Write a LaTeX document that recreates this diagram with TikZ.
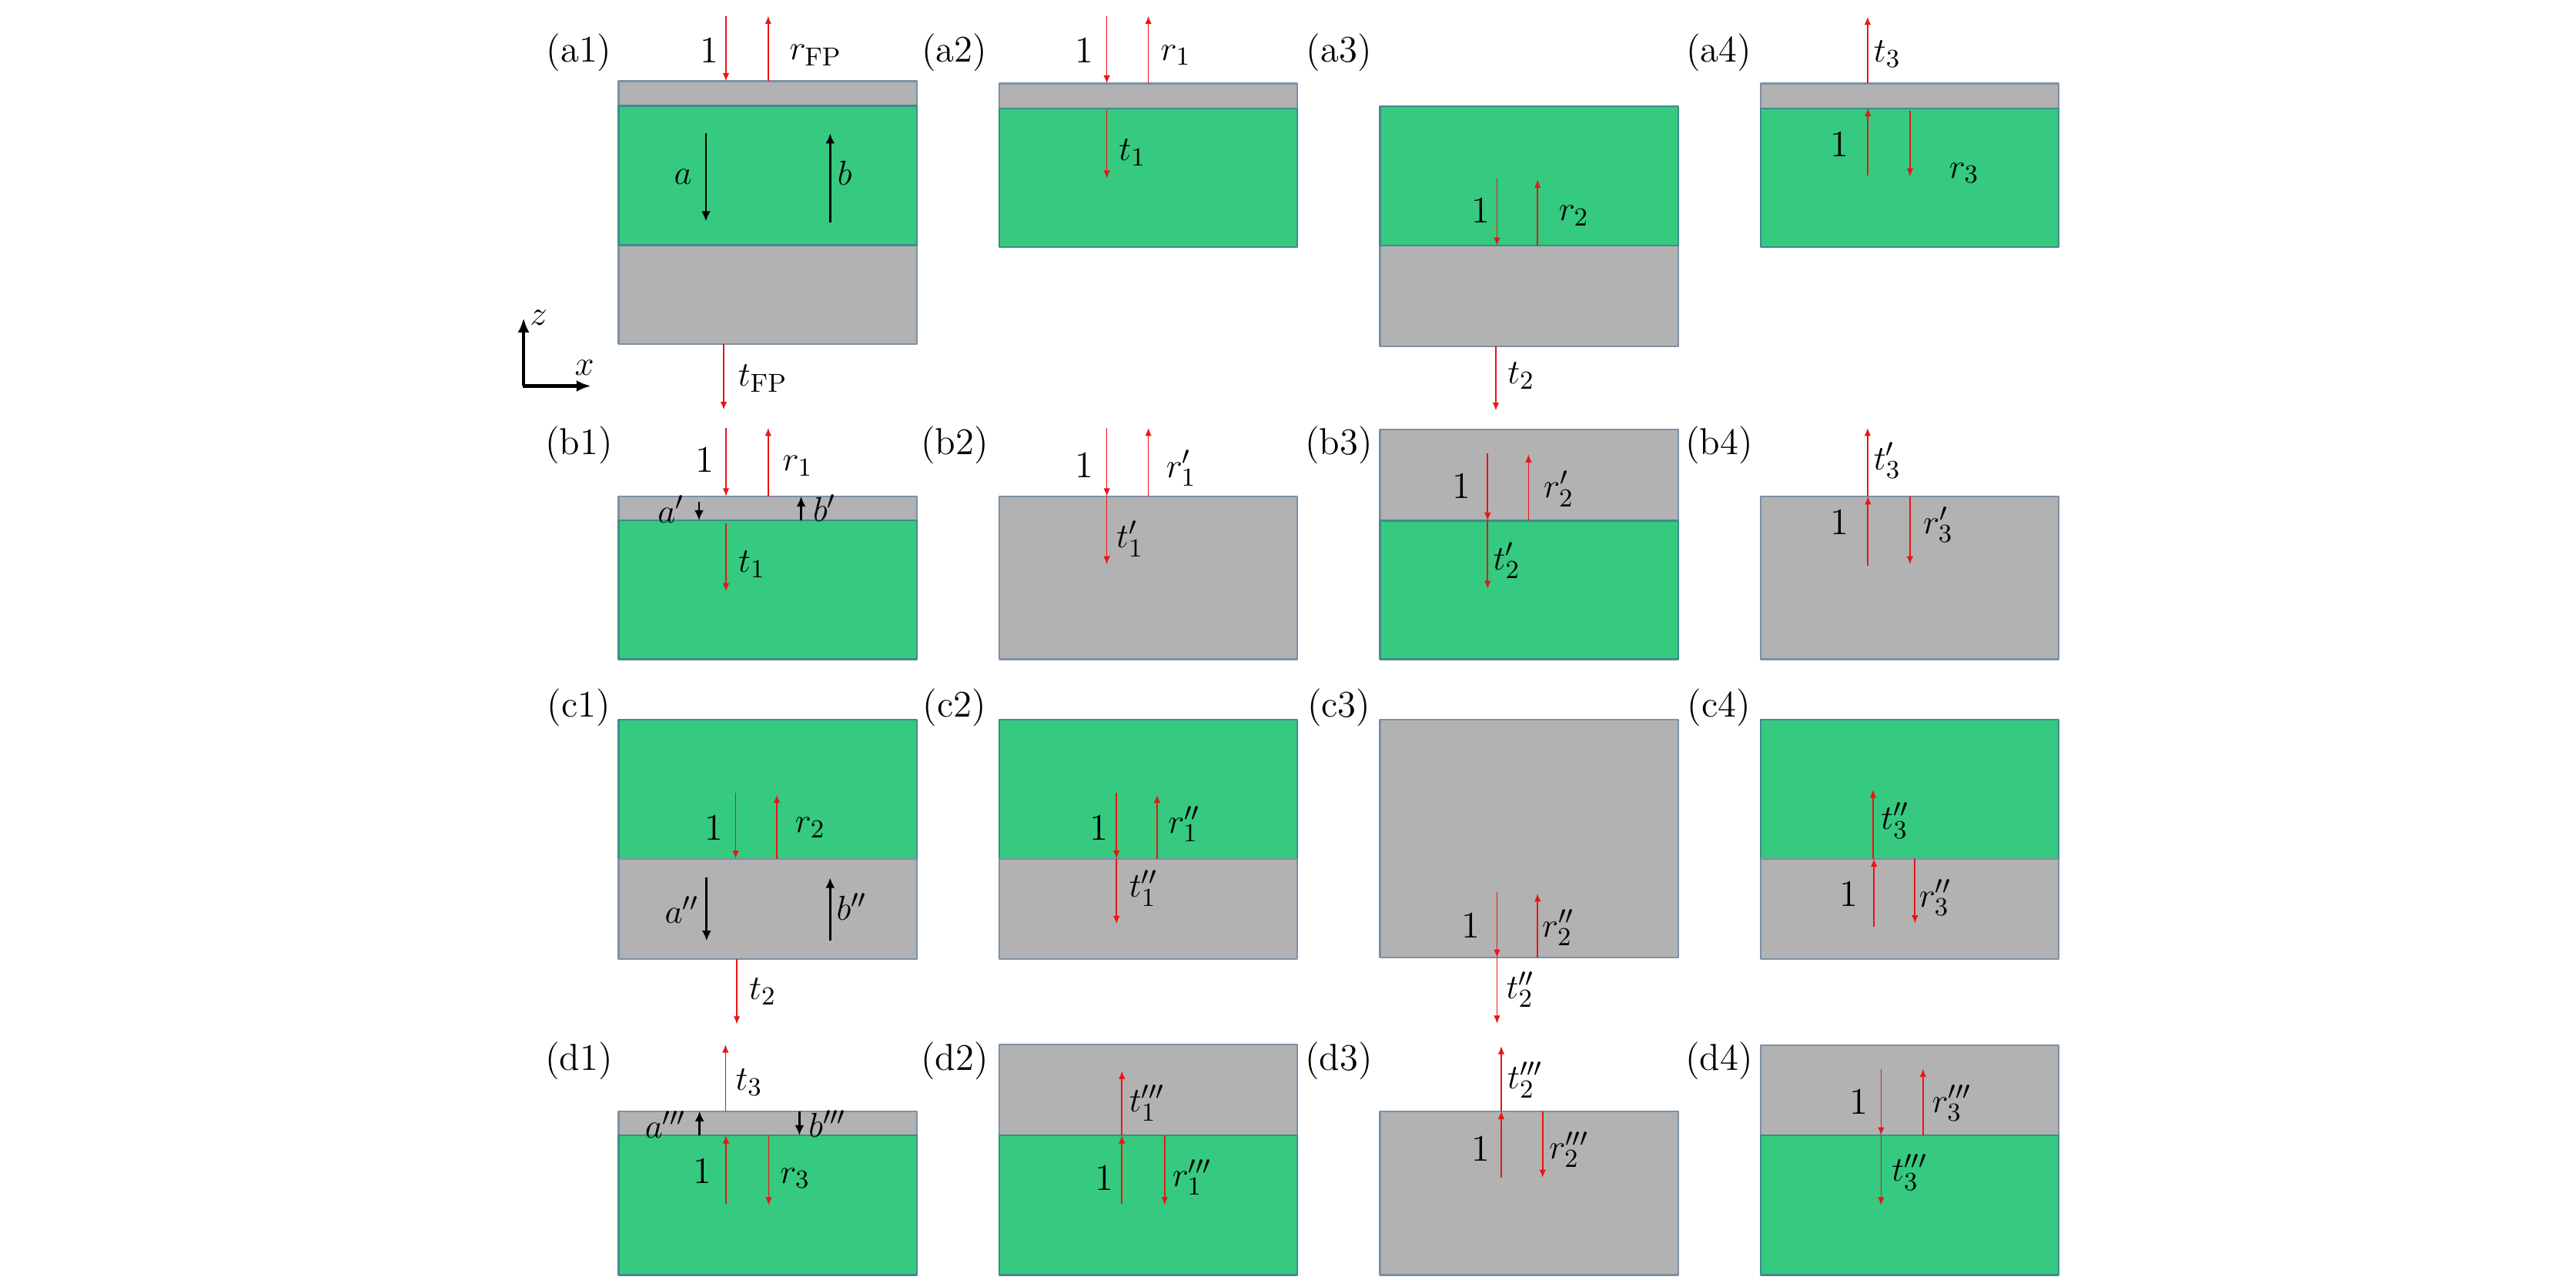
\documentclass[tikz,border=0pt]{standalone}
\usetikzlibrary{arrows.meta}
\definecolor{slabgreen}{RGB}{53,202,127}
\definecolor{slabgray}{RGB}{178,178,178}
\definecolor{grayedge}{RGB}{125,145,165}
\definecolor{greenedge}{RGB}{62,140,140}
\definecolor{rayred}{RGB}{235,20,20}

\begin{document}
\begin{tikzpicture}[join=round,x=0.02cm,y=-0.02cm]
    \tikzstyle{grayfill} = [fill=slabgray,draw=grayedge,line width=.6pt]
    \tikzstyle{greenfill} = [fill=slabgreen,draw=greenedge,line width=.6pt]
    \tikzstyle{ray} = [rayred,line width=.45pt,-{Latex[length=2.8pt,width=2.3pt]}]
    \tikzstyle{field} = [black,line width=.75pt,-{Latex[length=3.5pt,width=3.2pt]}]
    \tikzstyle{axis} = [black,line width=1.1pt,-{Latex[length=5pt,width=4pt]}]
    \tikzstyle{lbl} = [font=\fontsize{13}{15}\selectfont,inner sep=0pt]
    \useasboundingbox (0,0) rectangle (1568,779);
    % row (a)
    \filldraw[grayfill](376.5,49.4) rectangle (558,64.4);
    \filldraw[grayfill](376.5,149.2) rectangle (558,209.3);
    \filldraw[greenfill](376.5,64.4) rectangle (558,149.2);
    \filldraw[grayfill](608.3,50.8) rectangle (789.7,65.9);
    \filldraw[greenfill](608.3,65.9) rectangle (789.7,150.4);
    \filldraw[grayfill](840,149.5) rectangle (1021.4,210.9);
    \filldraw[greenfill](840,64.8) rectangle (1021.4,149.5);
    \filldraw[grayfill](1071.6,50.8) rectangle (1253,65.9);
    \filldraw[greenfill](1071.6,65.9) rectangle (1253,150.4);
    \draw[ray](441.9,9.7)--(441.9,49.4);
    \draw[ray](467.6,49.4)--(467.6,9.7);
    \draw[ray](440.5,209.3)--(440.5,249.5);
    \draw[field](429.7,81.2)--(429.7,134.7);
    \draw[field](505.3,135.6)--(505.3,81.2);
    \draw[axis](318.7,235)--(318.7,193.6);
    \draw[axis](318.2,235)--(359.7,235);
    \draw[ray](673.7,9.7)--(673.7,50.8);
    \draw[ray](699,50.8)--(699,9.7);
    \draw[ray](673.7,67.2)--(673.7,108.6);
    \draw[ray](911.2,108.9)--(911.2,149.5);
    \draw[ray](935.9,149.5)--(935.9,109.4);
    \draw[ray](910.5,210.9)--(910.5,250);
    \draw[ray](1136.8,50.8)--(1136.8,10.2);
    \draw[ray](1137,106.7)--(1137,65.9);
    \draw[ray](1162.6,67.5)--(1162.6,107.5);
    \node[lbl] (pa1) at (352.4,32) {(a1)};
    \node[lbl] (pa2) at (581,32) {(a2)};
    \node[lbl] (pa3) at (815,32) {(a3)};
    \node[lbl] (pa4) at (1046.3,32) {(a4)};
    \node[lbl] (ina1) at (432,30.5) {1};
    \node[lbl] (rfp) at (496.5,33.6) {$r_{\mathrm{FP}}$};
    \node[lbl] (fa) at (415.7,107.8) {$a$};
    \node[lbl] (fb) at (514.2,105.5) {$b$};
    \node[lbl] (axz) at (327.8,193.4) {$z$};
    \node[lbl] (axx) at (355.7,223.7) {$x$};
    \node[lbl] (tfp) at (464.3,230.4) {$t_{\mathrm{FP}}$};
    \node[lbl] (ina2) at (659.8,30.5) {1};
    \node[lbl] (ra2) at (715.7,33.6) {$r_1$};
    \node[lbl] (ta2) at (689.3,93) {$t_1$};
    \node[lbl] (ina3) at (901.4,128.1) {1};
    \node[lbl] (ra3) at (958,131.2) {$r_2$};
    \node[lbl] (ta3) at (925.9,228.8) {$t_2$};
    \node[lbl] (ta4) at (1148.8,32.8) {$t_3$};
    \node[lbl] (ina4) at (1119.5,87.8) {1};
    \node[lbl] (ra4) at (1195.6,105.4) {$r_3$};
    % row (b)
    \filldraw[grayfill](376.5,302.2) rectangle (558,316.8);
    \filldraw[greenfill](376.5,316.8) rectangle (558,401.4);
    \filldraw[grayfill](608.3,302.2) rectangle (789.7,401.4);
    \filldraw[grayfill](840,261.6) rectangle (1021.4,317);
    \filldraw[greenfill](840,317) rectangle (1021.4,401.4);
    \filldraw[grayfill](1071.6,302.2) rectangle (1253,401.4);
    \draw[ray](441.9,260.5)--(441.9,302.2);
    \draw[ray](467.6,302.2)--(467.6,260.5);
    \draw[ray](441.9,318.7)--(441.9,360);
    \draw[field](425.5,305.5)--(425.5,316.8);
    \draw[field](487.6,316.8)--(487.6,302.2);
    \draw[ray](673.7,260.5)--(673.7,302.2);
    \draw[ray](673.7,302.2)--(673.7,343.6);
    \draw[ray](699,302.2)--(699,260.5);
    \draw[ray](905.5,276.2)--(905.5,317);
    \draw[ray](905.5,317)--(905.5,358.5);
    \draw[ray](930.4,317)--(930.4,276.6);
    \draw[ray](1136.8,302.2)--(1136.8,260.5);
    \draw[ray](1137,344.4)--(1137,302.2);
    \draw[ray](1162.6,302.2)--(1162.6,343.6);
    \node[lbl] (pb1) at (352.4,271) {(b1)};
    \node[lbl] (pb2) at (581,271) {(b2)};
    \node[lbl] (pb3) at (815,271) {(b3)};
    \node[lbl] (pb4) at (1046.4,271) {(b4)};
    \node[lbl] (inb1) at (428.8,279.9) {1};
    \node[lbl] (rb1) at (485.6,283.5) {$r_1$};
    \node[lbl] (fap) at (408.4,310) {$a'$};
    \node[lbl] (fbp) at (502,309.3) {$b'$};
    \node[lbl] (tb1) at (457.7,343.6) {$t_1$};
    \node[lbl] (inb2) at (659.8,283) {1};
    \node[lbl] (rb2) at (719,285) {$r'_1$};
    \node[lbl] (tb2) at (687.8,328) {$t'_1$};
    \node[lbl] (inb3) at (889.4,296) {1};
    \node[lbl] (rb3) at (948.8,297.6) {$r'_2$};
    \node[lbl] (tb3) at (917.2,341.3) {$t'_2$};
    \node[lbl] (tb4) at (1148.8,280.4) {$t'_3$};
    \node[lbl] (inb4) at (1119.5,317.9) {1};
    \node[lbl] (rb4) at (1179.8,319.4) {$r'_3$};
    % row (c)
    \filldraw[greenfill](376.5,438.2) rectangle (558,522.8);
    \filldraw[grayfill](376.5,522.8) rectangle (558,584);
    \filldraw[greenfill](608.3,438.2) rectangle (789.7,522.8);
    \filldraw[grayfill](608.3,522.8) rectangle (789.7,584);
    \filldraw[grayfill](840,438.2) rectangle (1021.4,583);
    \filldraw[greenfill](1071.6,438.2) rectangle (1253,522.8);
    \filldraw[grayfill](1071.6,522.8) rectangle (1253,584);
    \draw[ray](447.8,482.5)--(447.8,522.8);
    \draw[ray](472.8,522.8)--(472.8,483.9);
    \draw[ray](448.5,584)--(448.5,623.6);
    \draw[field](430.1,534.4)--(430.1,572.8);
    \draw[field](505.3,572.8)--(505.3,534.4);
    \draw[ray](679.6,482.5)--(679.6,522.8);
    \draw[ray](679.6,522.8)--(679.6,562.5);
    \draw[ray](704.3,522.8)--(704.3,483.9);
    \draw[ray](911.2,543)--(911.2,583);
    \draw[ray](911.2,583)--(911.2,623.2);
    \draw[ray](935.9,583)--(935.9,544);
    \draw[ray](1140.1,522.8)--(1140.1,480.7);
    \draw[ray](1140.7,564.1)--(1140.7,522.8);
    \draw[ray](1165.6,522.8)--(1165.6,562.2);
    \node[lbl] (pc1) at (352.4,431) {(c1)};
    \node[lbl] (pc2) at (581,431) {(c2)};
    \node[lbl] (pc3) at (815,431) {(c3)};
    \node[lbl] (pc4) at (1046.4,431) {(c4)};
    \node[lbl] (inc1) at (434.7,504) {1};
    \node[lbl] (rc1) at (493.2,504) {$r_2$};
    \node[lbl] (fapp) at (415,554) {$a''$};
    \node[lbl] (fbpp) at (518.5,552.2) {$b''$};
    \node[lbl] (tc1) at (464.3,603.7) {$t_2$};
    \node[lbl] (inc2) at (668.8,504) {1};
    \node[lbl] (rc2) at (720.8,501.7) {$r''_1$};
    \node[lbl] (tc2) at (696,540.8) {$t''_1$};
    \node[lbl] (inc3) at (895.4,563.2) {1};
    \node[lbl] (rc3) at (948.5,564.8) {$r''_2$};
    \node[lbl] (tc3) at (925.5,602.5) {$t''_2$};
    \node[lbl] (tc4) at (1153.6,499.5) {$t''_3$};
    \node[lbl] (inc4) at (1125.5,544.1) {1};
    \node[lbl] (rc4) at (1178,546.5) {$r''_3$};
    % row (d)
    \filldraw[grayfill](376.5,676.5) rectangle (558,691.2);
    \filldraw[greenfill](376.5,691.2) rectangle (558,776.3);
    \filldraw[grayfill](608.3,636) rectangle (789.7,691.2);
    \filldraw[greenfill](608.3,691.2) rectangle (789.7,776.3);
    \filldraw[grayfill](840,676.5) rectangle (1021.4,776.3);
    \filldraw[grayfill](1071.6,636.4) rectangle (1253,691.2);
    \filldraw[greenfill](1071.6,691.2) rectangle (1253,776.3);
    \draw[ray](441.6,676.5)--(441.6,635.9);
    \draw[field](425.8,691.2)--(425.8,676.5);
    \draw[field](486.6,676.5)--(486.6,691.2);
    \draw[ray](441.9,732.8)--(441.9,691.2);
    \draw[ray](467.9,691.2)--(467.9,733.8);
    \draw[ray](682.9,732.8)--(682.9,691.2);
    \draw[ray](682.9,691.2)--(682.9,652);
    \draw[ray](708.9,691.2)--(708.9,733.8);
    \draw[ray](913.8,717)--(913.8,676.5);
    \draw[ray](913.8,676.5)--(913.8,636.9);
    \draw[ray](939,676.5)--(939,717);
    \draw[ray](1145,650.7)--(1145,691.2);
    \draw[ray](1145,691.2)--(1145,733.8);
    \draw[ray](1170.5,691.2)--(1170.5,650.7);
    \node[lbl] (pd1) at (352.4,646) {(d1)};
    \node[lbl] (pd2) at (581,646) {(d2)};
    \node[lbl] (pd3) at (815,646) {(d3)};
    \node[lbl] (pd4) at (1046.4,646) {(d4)};
    \node[lbl] (td1) at (456,658.8) {$t_3$};
    \node[lbl] (fappp) at (405.1,684.8) {$a'''$};
    \node[lbl] (fbppp) at (503.7,684.1) {$b'''$};
    \node[lbl] (ind1) at (427.5,712.7) {1};
    \node[lbl] (rd1) at (484,717.3) {$r_3$};
    \node[lbl] (td2) at (698.2,671.5) {$t'''_1$};
    \node[lbl] (ind2) at (672,717.3) {1};
    \node[lbl] (rd2) at (725.6,716.8) {$r'''_1$};
    \node[lbl] (td3) at (928.4,657.5) {$t'''_2$};
    \node[lbl] (ind3) at (901.2,699.2) {1};
    \node[lbl] (rd3) at (955,699.9) {$r'''_2$};
    \node[lbl] (ind4) at (1131.5,670.8) {1};
    \node[lbl] (rd4) at (1188,671.6) {$r'''_3$};
    \node[lbl] (td4) at (1162.3,713.7) {$t'''_3$};
\end{tikzpicture}
\end{document}
